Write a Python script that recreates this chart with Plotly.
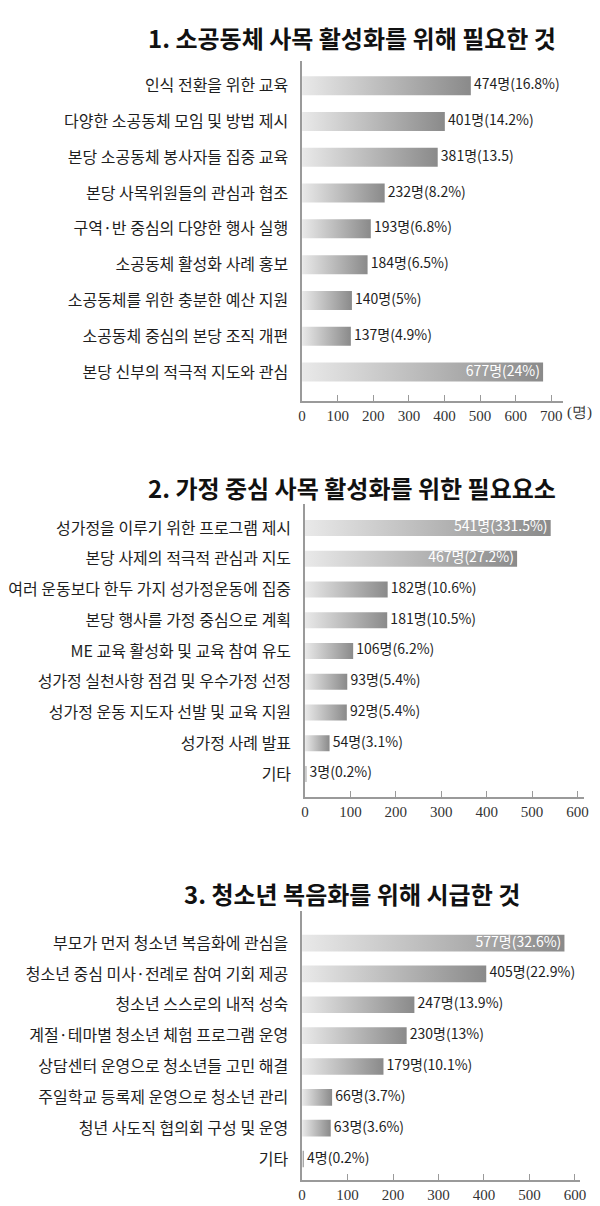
import plotly.graph_objects as go

# 1. 소공동체
TITLE1 = "1. 소공동체 사목 활성화를 위해 필요한 것"
LABELS1 = [
    "인식 전환을 위한 교육",
    "다양한 소공동체 모임 및 방법 제시",
    "본당 소공동체 봉사자들 집중 교육",
    "본당 사목위원들의 관심과 협조",
    "구역·반 중심의 다양한 행사 실행",
    "소공동체 활성화 사례 홍보",
    "소공동체를 위한 충분한 예산 지원",
    "소공동체 중심의 본당 조직 개편",
    "본당 신부의 적극적 지도와 관심",
]
VALUES1 = [474, 401, 381, 232, 193, 184, 140, 137, 677]
PCT1 = ["16.8%", "14.2%", "13.5", "8.2%", "6.8%", "6.5%", "5%", "4.9%", "24%"]
INSIDE1 = [False, False, False, False, False, False, False, False, True]
TICKS1 = [0, 100, 200, 300, 400, 500, 600, 700]

# 2. 가정 중심
TITLE2 = "2. 가정 중심 사목 활성화를 위한 필요요소"
LABELS2 = [
    "성가정을 이루기 위한 프로그램 제시",
    "본당 사제의 적극적 관심과 지도",
    "여러 운동보다 한두 가지 성가정운동에 집중",
    "본당 행사를 가정 중심으로 계획",
    "ME 교육 활성화 및 교육 참여 유도",
    "성가정 실천사항 점검 및 우수가정 선정",
    "성가정 운동 지도자 선발 및 교육 지원",
    "성가정 사례 발표",
    "기타",
]
VALUES2 = [541, 467, 182, 181, 106, 93, 92, 54, 3]
PCT2 = ["331.5%", "27.2%", "10.6%", "10.5%", "6.2%", "5.4%", "5.4%", "3.1%", "0.2%"]
INSIDE2 = [True, True, False, False, False, False, False, False, False]
TICKS2 = [0, 100, 200, 300, 400, 500, 600]

# 3. 청소년
TITLE3 = "3. 청소년 복음화를 위해 시급한 것"
LABELS3 = [
    "부모가 먼저 청소년 복음화에 관심을",
    "청소년 중심 미사·전례로 참여 기회 제공",
    "청소년 스스로의 내적 성숙",
    "계절·테마별 청소년 체험 프로그램 운영",
    "상담센터 운영으로 청소년들 고민 해결",
    "주일학교 등록제 운영으로 청소년 관리",
    "청년 사도직 협의회 구성 및 운영",
    "기타",
]
VALUES3 = [577, 405, 247, 230, 179, 66, 63, 4]
PCT3 = ["32.6%", "22.9%", "13.9%", "13%", "10.1%", "3.7%", "3.6%", "0.2%"]
INSIDE3 = [True, False, False, False, False, False, False, False]
TICKS3 = [0, 100, 200, 300, 400, 500, 600]

W, H = 600, 1206
FONT = "Noto Sans CJK KR"
TEXT_COLOR = "#1e1e1e"
AXIS_COLOR = "#9a9a9a"
BAR_SCALE = [[0, "#e9e9e9"], [1, "#8a8a8a"]]
NBSP = "\u00a0"


def px_x(p):
    return p / W


def px_y(p):
    return 1 - p / H


fig = go.Figure()


def add_chart(n, values, pcts, inside, half):
    xa = "x" if n == 1 else f"x{n}"
    ya = "y" if n == 1 else f"y{n}"
    # one polygon per bar so each gets its own light-to-dark gradient
    for i, v in enumerate(values):
        fig.add_trace(go.Scatter(
            x=[0, v, v, 0, 0],
            y=[i - half, i - half, i + half, i + half, i - half],
            mode="lines", line=dict(width=0), fill="toself",
            fillgradient=dict(type="horizontal", colorscale=BAR_SCALE),
            xaxis=xa, yaxis=ya, hoverinfo="skip", showlegend=False,
        ))
    texts = [
        f"{v}명({p}){NBSP}" if s else f"{NBSP}{v}명({p})"
        for v, p, s in zip(values, pcts, inside)
    ]
    fig.add_trace(go.Scatter(
        x=values, y=list(range(len(values))),
        mode="text", text=texts,
        textposition=["middle left" if s else "middle right" for s in inside],
        textfont=dict(family=FONT, size=14,
                      color=["#ffffff" if s else TEXT_COLOR for s in inside]),
        xaxis=xa, yaxis=ya, hoverinfo="skip", showlegend=False,
    ))


add_chart(1, VALUES1, PCT1, INSIDE1, 0.265)
add_chart(2, VALUES2, PCT2, INSIDE2, 0.26)
add_chart(3, VALUES3, PCT3, INSIDE3, 0.27)


def x_axis(dom, rng, ticks, anchor):
    return dict(
        domain=[px_x(dom[0]), px_x(dom[1])], range=rng, tickvals=ticks,
        showline=True, linecolor=AXIS_COLOR, linewidth=1.5,
        ticks="inside", ticklen=6, tickcolor=AXIS_COLOR, tickwidth=1.2,
        showgrid=False, zeroline=False, anchor=anchor, fixedrange=True,
        tickfont=dict(family="Liberation Serif", size=15, color="#333333"),
    )


def y_axis(dom, rng, labels, anchor):
    return dict(
        domain=[px_y(dom[1]), px_y(dom[0])], range=rng,
        tickvals=list(range(len(labels))), ticktext=labels,
        showline=True, linecolor=AXIS_COLOR, linewidth=1.5,
        showgrid=False, zeroline=False, anchor=anchor, fixedrange=True,
        ticks="", ticklabelstandoff=9,
        tickfont=dict(family=FONT, size=16, color=TEXT_COLOR),
    )


fig.update_layout(
    width=W, height=H,
    margin=dict(l=0, r=0, t=0, b=0),
    paper_bgcolor="white", plot_bgcolor="white",
    showlegend=False,
    xaxis=x_axis((295, 560), [0, 732], TICKS1, "y"),
    yaxis=y_axis((53, 393), [8.81, -0.69], LABELS1, "x"),
    xaxis2=x_axis((298, 582), [0, 615], TICKS2, "y2"),
    yaxis2=y_axis((496, 789), [8.75, -0.78], LABELS2, "x2"),
    xaxis3=x_axis((295, 578), [0, 612], TICKS3, "y3"),
    yaxis3=y_axis((903, 1172), [7.68, -1.04], LABELS3, "x3"),
)

titles = [(TITLE1, 30), (TITLE2, 480), (TITLE3, 885)]
for text, ypix in titles:
    fig.add_annotation(
        text=f"<b>{text}</b>", xref="paper", yref="paper",
        x=px_x(346), y=px_y(ypix), showarrow=False,
        xanchor="center", yanchor="middle",
        font=dict(family=FONT, size=24, color="#111111"),
    )

fig.add_annotation(
    text="(명)", xref="paper", yref="paper", x=px_x(577), y=px_y(405),
    showarrow=False, xanchor="center", yanchor="middle",
    font=dict(family="Liberation Serif", size=15, color="#333333"),
)

fig.write_html("out.html")
